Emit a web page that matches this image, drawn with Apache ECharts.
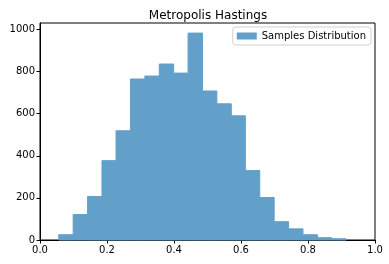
<!DOCTYPE html>
<html><head><meta charset="utf-8">
<script src="https://cdn.jsdelivr.net/npm/echarts@6/dist/echarts.min.js"></script>
<style>html,body{margin:0;padding:0;background:#fff}#c{width:389px;height:264px}</style>
</head><body><div id="c"></div>
<script>
const binEdges = [0.056, 0.099, 0.142, 0.185, 0.227, 0.270, 0.313, 0.356, 0.399, 0.442, 0.485, 0.528, 0.571, 0.613, 0.656, 0.699, 0.742, 0.785, 0.828, 0.871, 0.914];
const counts = [25, 121, 207, 377, 519, 765, 779, 836, 793, 983, 708, 647, 590, 330, 202, 87, 53, 25, 11, 6];
const xTicks = [0.0, 0.2, 0.4, 0.6, 0.8, 1.0];
const yTicks = [0, 200, 400, 600, 800, 1000];
const seriesName = 'Samples Distribution';
const titleText = 'Metropolis Hastings';

const data = counts.map((c, i) => [binEdges[i], binEdges[i + 1], c]);
const font = 'DejaVu Sans';
const chart = echarts.init(document.getElementById('c'), null, {renderer: 'canvas'});
chart.setOption({
  animation: false,
  title: {text: titleText, left: 203, textAlign: 'center', top: 5,
    textStyle: {fontFamily: font, fontSize: 12, fontWeight: 'normal', color: '#000'}},
  grid: {left: 40, right: 14, top: 23, bottom: 24, show: true, borderColor: '#000', borderWidth: 1},
  legend: {data: [{name: seriesName, icon: 'rect', itemStyle: {color: '#62a0ca'}}],
    right: 18, top: 27, itemWidth: 20, itemHeight: 7, itemGap: 5,
    padding: [4, 5, 4, 4], borderColor: '#d0d0d0', borderWidth: 1, borderRadius: 3,
    backgroundColor: '#fff',
    textStyle: {fontFamily: font, fontSize: 10, color: '#000'}},
  xAxis: {type: 'value', min: 0, max: 1, interval: 0.2,
    axisLine: {show: true, lineStyle: {color: '#000'}},
    axisTick: {show: true, length: 3.5, lineStyle: {color: '#000'}},
    splitLine: {show: false},
    axisLabel: {fontFamily: font, fontSize: 10, color: '#000', margin: 5,
      customValues: xTicks, formatter: v => v.toFixed(1)}},
  yAxis: {type: 'value', min: 0, max: 1031, interval: 200,
    axisLine: {show: true, lineStyle: {color: '#000'}},
    axisTick: {show: true, length: 3.5, lineStyle: {color: '#000'}, customValues: yTicks},
    splitLine: {show: false},
    axisLabel: {fontFamily: font, fontSize: 10, color: '#000', margin: 5, customValues: yTicks,
      formatter: v => String(v)}},
  series: [{
    name: seriesName, type: 'custom', data: data, z: 1,
    encode: {x: [0, 1], y: 2},
    renderItem: function (params, api) {
      const p0 = api.coord([api.value(0), api.value(2)]);
      const p1 = api.coord([api.value(1), 0]);
      return {type: 'rect', shape: {x: p0[0], y: p0[1], width: p1[0] - p0[0], height: p1[1] - p0[1]},
        style: {fill: '#62a0ca', stroke: '#62a0ca', lineWidth: 1}};
    }
  }]
});
</script></body></html>
